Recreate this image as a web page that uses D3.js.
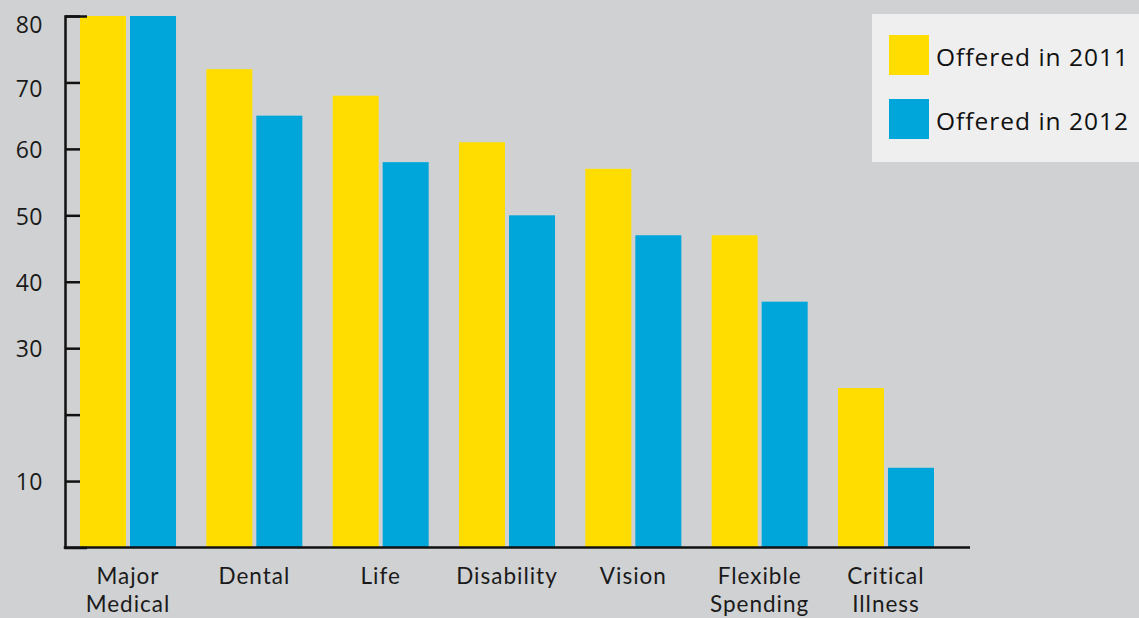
<!DOCTYPE html>
<html>
<head>
<meta charset="utf-8">
<script src="https://cdn.jsdelivr.net/npm/d3@7"></script>
<style>
  html, body { margin: 0; padding: 0; background: #d0d1d3; }
  svg { display: block; font-family: "Open Sans", sans-serif; }
</style>
</head>
<body>
<svg id="chart" width="1139" height="618"></svg>
<script>
// data
const categories = [["Major", "Medical"], ["Dental"], ["Life"], ["Disability"], ["Vision"], ["Flexible", "Spending"], ["Critical", "Illness"]];
const series = ["Offered in 2011", "Offered in 2012"];
const values2011 = [80, 72, 68, 61, 57, 47, 24];
const values2012 = [80, 65, 58, 50, 47, 37, 12];
const tickValues = [10, 20, 30, 40, 50, 60, 70, 80];
const tickLabels = ["10", "", "30", "40", "50", "60", "70", "80"];
const colors = ["#ffdd00", "#00a6d9"];

const svg = d3.select('#chart');

const x0 = 65, yBase = 547.5, yTop = 16;

const x = d3.scaleBand()
    .domain(d3.range(categories.length))
    .range([80, 934])
    .paddingInner(0.24)
    .paddingOuter(0);

const xs = d3.scaleBand()
    .domain(d3.range(series.length))
    .range([0, x.bandwidth()])
    .paddingInner(0.08);

const y = d3.scaleLinear()
    .domain([0, 80])
    .range([yBase, yTop]);

// bars
const rows = categories.map((c, i) => ({ i, vals: [values2011[i], values2012[i]] }));

const groups = svg.selectAll('g.group')
    .data(rows)
    .enter()
    .append('g')
    .attr('class', 'group')
    .attr('transform', d => `translate(${x(d.i)},0)`);

groups.selectAll('rect')
    .data(d => d.vals.map((v, s) => ({ v, s })))
    .enter()
    .append('rect')
    .attr('x', d => xs(d.s))
    .attr('width', xs.bandwidth())
    .attr('y', d => y(d.v))
    .attr('height', d => yBase - y(d.v))
    .attr('fill', d => colors[d.s]);

// y axis, ticks pointing into the plot
const yAxis = d3.axisLeft(y)
    .tickValues(tickValues)
    .tickFormat((d, i) => tickLabels[i])
    .tickSizeInner(-15)
    .tickSizeOuter(-22)
    .tickPadding(22);

const gy = svg.append('g')
    .attr('transform', `translate(${x0},0)`)
    .call(yAxis);

gy.select('.domain').attr('stroke', '#111').attr('stroke-width', 2.5);
gy.selectAll('.tick line').attr('stroke', '#111').attr('stroke-width', 2.5);
gy.selectAll('.tick text')
    .attr('fill', '#1a1a1a')
    .attr('font-size', 23)
    .attr('font-family', '"Open Sans", sans-serif')
    .attr('letter-spacing', 0.5)
    // top labels sit a little lower than their ticks in the original
    .attr('dy', d => d === 80 ? '0.7em' : d === 70 ? '0.6em' : '0.38em');

// baseline
svg.append('line')
    .attr('x1', x0 - 1.25).attr('x2', 970)
    .attr('y1', yBase).attr('y2', yBase)
    .attr('stroke', '#111').attr('stroke-width', 2.5);

// category labels, one text per line
const labelLines = [];
rows.forEach(d => categories[d.i].forEach((t, k) => labelLines.push({ i: d.i, k, t })));

svg.selectAll('text.cat')
    .data(labelLines)
    .enter()
    .append('text')
    .attr('class', 'cat')
    .attr('x', d => x(d.i) + x.bandwidth() / 2)
    .attr('y', d => 584 + d.k * 27.5)
    .attr('text-anchor', 'middle')
    .attr('font-family', 'Lato, sans-serif')
    .attr('font-size', 22.5)
    .attr('letter-spacing', 1)
    .attr('fill', '#1a1a1a')
    .text(d => d.t);

// legend
const legend = svg.append('g');
legend.append('rect')
    .attr('x', 872).attr('y', 14)
    .attr('width', 280).attr('height', 148)
    .attr('fill', '#efefef');

const items = legend.selectAll('g.item')
    .data(series)
    .enter()
    .append('g')
    .attr('class', 'item')
    .attr('transform', (d, i) => `translate(889,${35 + i * 64})`);

items.append('rect')
    .attr('width', 40).attr('height', 40)
    .attr('fill', (d, i) => colors[i]);

items.append('text')
    .attr('x', 47).attr('y', 31)
    .attr('font-size', 24.5)
    .attr('letter-spacing', 1)
    .attr('fill', '#111')
    .text(d => d);
</script>
</body>
</html>
